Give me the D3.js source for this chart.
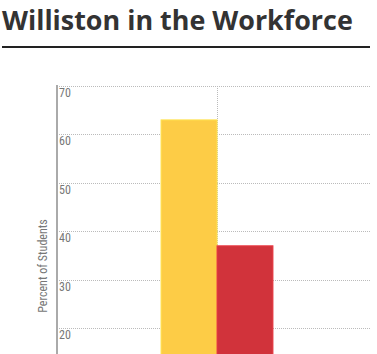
<!DOCTYPE html>
<html>
<head>
<meta charset="utf-8">
<script src="https://cdn.jsdelivr.net/npm/d3@7"></script>
<style>
  body { margin: 0; background: #fff; }
  svg { display: block; }
</style>
</head>
<body>
<svg id="chart"></svg>
<script>
// the data
const groups = ["Williston"];
const seriesNames = ["Working", "Not working"];
const seriesValues = [63, 37];
const seriesColors = ["#fdcc46", "#d1333b"];
const yTicks = [0, 10, 20, 30, 40, 50, 60, 70];

const W = 377, H = 354;
const margin = { top: 86, left: 57, right: 6 };
const plotBottom = 425; // zero line is below the visible window

const svg = d3.select("#chart")
    .attr("width", W)
    .attr("height", H);

// title + rule
const title = svg.append("text")
    .attr("x", 2)
    .attr("y", 30)
    .attr("font-family", "'Open Sans', sans-serif")
    .attr("font-weight", "bold")
    .attr("font-size", "26px")
    .attr("fill", "#333")
    .text("Williston in the Workforce");
// fit title width to the reference
const tl = title.node().getComputedTextLength();
title.attr("font-size", (26 * 351 / tl) + "px");

svg.append("line")
    .attr("x1", 2).attr("x2", 370)
    .attr("y1", 47).attr("y2", 47)
    .attr("stroke", "#222")
    .attr("stroke-width", 2);

const y = d3.scaleLinear()
    .domain([0, 70])
    .range([plotBottom, margin.top]);

// band range runs to the window edge so the group sits at x ~217
const x0 = d3.scaleBand()
    .domain(groups)
    .range([margin.left, W])
    .paddingInner(0)
    .paddingOuter(0.93);

const x1 = d3.scaleBand()
    .domain(seriesNames)
    .range([0, x0.bandwidth()]);

// horizontal dotted grid
svg.append("g")
    .selectAll("line")
    .data(yTicks)
    .join("line")
    .attr("x1", margin.left)
    .attr("x2", W - margin.right)
    .attr("y1", d => Math.round(y(d)) + 0.5)
    .attr("y2", d => Math.round(y(d)) + 0.5)
    .attr("stroke", "#bbb")
    .attr("stroke-dasharray", "1,1");

// vertical grid at group centre
svg.append("g")
    .selectAll("line")
    .data(groups)
    .join("line")
    .attr("x1", d => Math.round(x0(d) + x0.bandwidth() / 2) + 0.5)
    .attr("x2", d => Math.round(x0(d) + x0.bandwidth() / 2) + 0.5)
    .attr("y1", margin.top)
    .attr("y2", plotBottom)
    .attr("stroke", "#bbb")
    .attr("stroke-dasharray", "1,1");

// bars
svg.append("g")
    .selectAll("rect")
    .data(seriesValues)
    .join("rect")
    .attr("x", (d, i) => x0(groups[0]) + x1(seriesNames[i]))
    .attr("y", d => y(d))
    .attr("width", x1.bandwidth())
    .attr("height", d => plotBottom - y(d))
    .attr("fill", (d, i) => seriesColors[i])
    .attr("stroke", (d, i) => d3.color(seriesColors[i]).brighter(0.3))
    .attr("stroke-width", 1);

// left axis line
svg.append("line")
    .attr("x1", margin.left).attr("x2", margin.left)
    .attr("y1", margin.top - 1).attr("y2", H)
    .attr("stroke", "#aaa")
    .attr("stroke-width", 2);

// tick labels inside the plot, under each grid line (only the ones on screen)
svg.append("g")
    .selectAll("text")
    .data(yTicks.filter(d => y(d) + 12 < H))
    .join("text")
    .attr("x", margin.left + 2)
    .attr("y", d => y(d) + 11)
    .attr("font-family", "'Liberation Sans Narrow', 'Roboto Condensed', sans-serif")
    .attr("font-size", "12px")
    .attr("fill", "#777")
    .text(d => d);

// y axis title
svg.append("text")
    .attr("transform", "translate(47, 266) rotate(-90)")
    .attr("text-anchor", "middle")
    .attr("font-family", "'Liberation Sans Narrow', 'Roboto Condensed', sans-serif")
    .attr("font-size", "12px")
    .attr("fill", "#777")
    .text("Percent of Students");
</script>
</body>
</html>
